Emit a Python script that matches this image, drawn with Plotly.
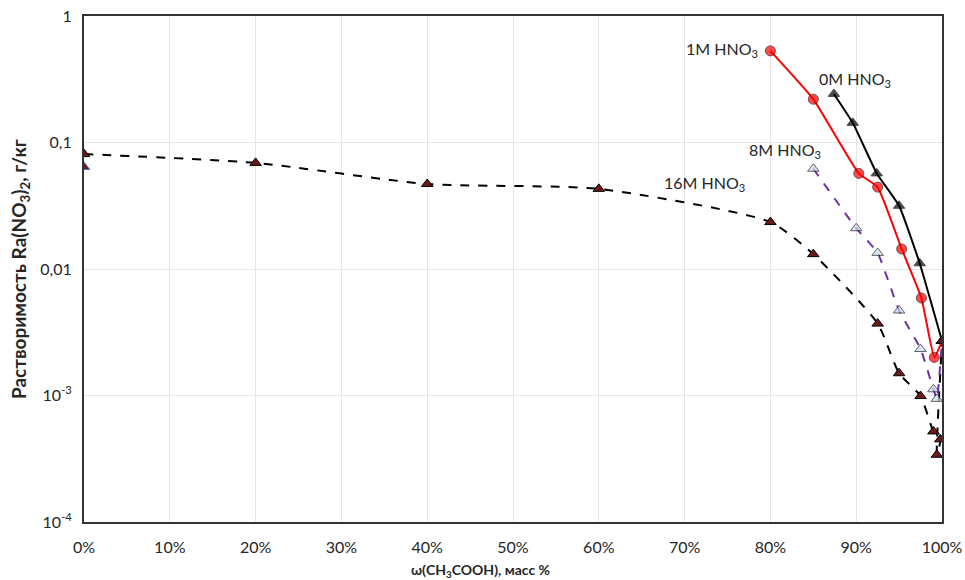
import math
import plotly.graph_objects as go

# ---- data ----
x_16M = [0, 20, 40, 60, 80, 85, 92.5, 95, 97.5, 99, 99.8, 99.4, 100]
y_16M = [0.081, 0.069, 0.047, 0.043, 0.0235, 0.0131, 0.0037, 0.0015, 0.00099, 0.00052, 0.00045, 0.00034, 0.0027]

x_8M = [85, 90, 92.5, 95, 97.5, 99, 99.4, 100]
y_8M = [0.062, 0.021, 0.0134, 0.0047, 0.00233, 0.00112, 0.00094, 0.0027]

x_0M = [87.4, 89.6, 92.4, 95, 97.4, 100]
y_0M = [0.242, 0.143, 0.057, 0.0316, 0.0111, 0.0027]

x_1M = [80, 85, 90.3, 92.5, 95.3, 97.6, 99.1, 100]
y_1M = [0.53, 0.22, 0.057, 0.0444, 0.0144, 0.0059, 0.0020, 0.0027]

x_extra = [0]
y_extra = [0.064]

x_ticks = [0, 10, 20, 30, 40, 50, 60, 70, 80, 90, 100]
x_ticktext = [f"{v}%" for v in x_ticks]
y_ticks = [1, 0.1, 0.01, 0.001, 0.0001]
y_ticktext = ["1", "0,1", "0,01", "10<sup>-3</sup>", "10<sup>-4</sup>"]

labels = ["1M HNO<sub>3</sub>", "0M HNO<sub>3</sub>", "8M HNO<sub>3</sub>", "16M HNO<sub>3</sub>"]
label_x = [78.8, 94.3, 86.1, 77.3]
label_y = [0.54, 0.312, 0.086, 0.047]

x_title = "<b>ω(CH<sub>3</sub>COOH), масс %</b>"
y_title = "<b>Растворимость Ra(NO<sub>3</sub>)<sub>2</sub>, г/кг</b>"

FONT = "Lato, 'Open Sans', sans-serif"
TXT = "#262626"

fig = go.Figure()

def sizes(n, last_hidden=True):
    s = [10] * n
    if last_hidden:
        s[-1] = 0
    return s

fig.add_trace(go.Scatter(
    x=x_16M, y=y_16M, mode="lines+markers",
    line=dict(color="black", width=2, dash="dash", shape="spline", smoothing=0.6),
    marker=dict(symbol="triangle-up", size=10, color="#6b1a1a", line=dict(color="black", width=1)),
))
fig.add_trace(go.Scatter(
    x=x_8M, y=y_8M, mode="lines+markers",
    line=dict(color="#7030a0", width=2, dash="dash", shape="spline", smoothing=0.4),
    marker=dict(symbol="triangle-up", size=sizes(len(x_8M)), color="#c6d9f0", line=dict(color="#222222", width=1)),
))
fig.add_trace(go.Scatter(
    x=x_0M, y=y_0M, mode="lines+markers",
    line=dict(color="black", width=2, shape="spline", smoothing=0.4),
    marker=dict(symbol="triangle-up", size=sizes(len(x_0M)), color="black", line=dict(color="black", width=1)),
))
fig.add_trace(go.Scatter(
    x=x_1M, y=y_1M, mode="lines+markers",
    line=dict(color="#ff0000", width=2, shape="spline", smoothing=0.4),
    marker=dict(symbol="circle", size=sizes(len(x_1M)), color="#ff0000", line=dict(color="#400000", width=1)),
))
fig.add_trace(go.Scatter(
    x=x_extra, y=y_extra, mode="markers",
    marker=dict(symbol="triangle-up", size=10, color="#6b1a1a", line=dict(color="#4472c4", width=1)),
))
fig.add_trace(go.Scatter(
    x=[x_16M[-1]], y=[y_16M[-1]], mode="markers",
    marker=dict(symbol="triangle-up", size=10, color="#6b1a1a", line=dict(color="black", width=1)),
))

for t, lx, ly in zip(labels, label_x, label_y):
    fig.add_annotation(x=lx, y=math.log10(ly), yref="y", xref="x", text=t, showarrow=False,
                       xanchor="right", yanchor="middle",
                       font=dict(family=FONT, size=16, color=TXT))

# axis titles (Excel centres them on the whole chart)
fig.add_annotation(x=0.5, y=0.0, xref="paper", yref="paper", text=x_title, showarrow=False,
                   xanchor="center", yanchor="middle", yshift=-48, xshift=-33,
                   font=dict(family=FONT, size=14, color=TXT))
fig.add_annotation(x=0.0, y=0.5, xref="paper", yref="paper", text=y_title, showarrow=False,
                   textangle=-90, xanchor="center", yanchor="middle", xshift=-64, yshift=0,
                   font=dict(family=FONT, size=19, color=TXT))

fig.update_layout(
    width=965, height=580,
    margin=dict(l=84, r=23, t=16, b=58, autoexpand=False),
    paper_bgcolor="white", plot_bgcolor="white",
    showlegend=False,
    font=dict(family=FONT, size=16, color=TXT),
    xaxis=dict(
        range=[0, 100], tickmode="array", tickvals=x_ticks, ticktext=x_ticktext,
        showgrid=True, gridcolor="#e6e6e6", gridwidth=1,
        showline=True, linecolor="#333333", linewidth=2, mirror=True,
        ticks="outside", ticklen=10, tickcolor="rgba(0,0,0,0)", zeroline=False,
        automargin=False,
        tickfont=dict(family=FONT, size=16, color=TXT),
    ),
    yaxis=dict(
        type="log", range=[-4, 0], tickmode="array", tickvals=y_ticks, ticktext=y_ticktext,
        showgrid=True, gridcolor="#e6e6e6", gridwidth=1,
        showline=True, linecolor="#333333", linewidth=2, mirror=True,
        ticks="outside", ticklen=7, tickcolor="rgba(0,0,0,0)", zeroline=False,
        automargin=False,
        tickfont=dict(family=FONT, size=16, color=TXT),
    ),
)

fig.write_html("out.html")
